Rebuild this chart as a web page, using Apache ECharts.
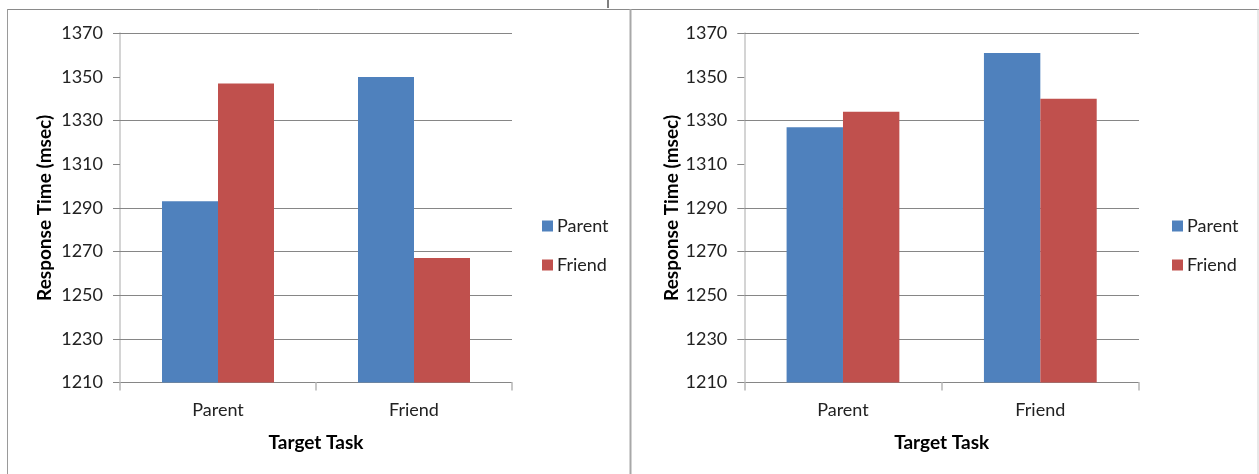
<!DOCTYPE html>
<html>
<head>
<meta charset="utf-8">
<script src="https://cdn.jsdelivr.net/npm/echarts@6/dist/echarts.min.js"></script>
<style>
  html, body { margin: 0; padding: 0; background: #fff; }
  #chart { width: 1259px; height: 474px; }
</style>
</head>
<body>
<div id="chart"></div>
<script>
// Response time (msec) by target task, for the two panels
const categories = ['Parent', 'Friend'];
const seriesNames = ['Parent', 'Friend'];
const leftParent = [1293, 1350];
const leftFriend = [1347, 1267];
const rightParent = [1327, 1361];
const rightFriend = [1334, 1340];

// Value axis range and step (tick labels 1210 ... 1370)
const yMin = 1210;
const yMax = 1370;
const yStep = 20;
// horizontal rules drawn across the plot
const gridValues = [1370, 1330, 1290, 1270, 1250, 1230];

const FONT = 'Lato, "Open Sans", sans-serif';
const TEXT = '#222';
const GRID = '#868686';
const BLUE = '#4F81BD';
const RED = '#C0504D';

function makeY(gridIndex, nameGap) {
  return {
    type: 'value', gridIndex: gridIndex,
    min: yMin, max: yMax, interval: yStep,
    name: 'Response Time (msec)', nameLocation: 'middle', nameGap: nameGap,
    nameTextStyle: { fontFamily: FONT, fontSize: 19, fontWeight: 'bold', color: '#000' },
    axisLine: { show: true, lineStyle: { color: '#d4d4d4', width: 2 } },
    axisTick: { show: true, length: 7, lineStyle: { color: GRID } },
    axisLabel: { fontFamily: FONT, fontSize: 18, color: TEXT, margin: 17, formatter: v => String(v) },
    splitLine: { show: false }
  };
}

function makeX(gridIndex) {
  return {
    type: 'category', gridIndex: gridIndex, data: categories,
    name: 'Target Task', nameLocation: 'middle', nameGap: 51,
    nameTextStyle: { fontFamily: FONT, fontSize: 19, fontWeight: 'bold', color: '#000' },
    axisLine: { show: true, lineStyle: { color: GRID, width: 1 } },
    axisTick: { show: true, alignWithLabel: false, length: 8, lineStyle: { color: '#c8c8c8', width: 2 } },
    axisLabel: { fontFamily: FONT, fontSize: 18, color: TEXT, margin: 19 }
  };
}

function makeBar(name, data, idx, color, withRules) {
  const s = {
    type: 'bar', name: name, data: data,
    xAxisIndex: idx, yAxisIndex: idx,
    barGap: '0%', barCategoryGap: '42.86%',
    itemStyle: { color: color }
  };
  if (withRules) {
    s.markLine = {
      silent: true, symbol: 'none', z: 1,
      label: { show: false },
      lineStyle: { color: GRID, width: 1, type: 'solid' },
      data: gridValues.map(v => ({ yAxis: v }))
    };
  }
  return s;
}

function makeLegend(left) {
  return {
    data: seriesNames, orient: 'vertical', left: left, top: 212,
    itemWidth: 11, itemHeight: 11, itemGap: 21, icon: 'rect',
    textStyle: { fontFamily: FONT, fontSize: 18, color: TEXT, padding: [0, 0, 0, -1] }
  };
}

const chart = echarts.init(document.getElementById('chart'));
chart.setOption({
  animation: false,
  backgroundColor: '#fff',
  color: [BLUE, RED],
  grid: [
    { left: 120, top: 33.3, width: 392, height: 349.2 },
    { left: 744.3, top: 33.3, width: 394.7, height: 349.2 }
  ],
  xAxis: [makeX(0), makeX(1)],
  yAxis: [makeY(0, 66), makeY(1, 61)],
  legend: [makeLegend(537), makeLegend(1167)],
  series: [
    makeBar(seriesNames[0], leftParent, 0, BLUE, true),
    makeBar(seriesNames[1], leftFriend, 0, RED, false),
    makeBar(seriesNames[0], rightParent, 1, BLUE, true),
    makeBar(seriesNames[1], rightFriend, 1, RED, false)
  ],
  graphic: [
    // panel frames
    { type: 'line', shape: { x1: 7.5, y1: 9.5, x2: 630, y2: 9.5 }, style: { stroke: '#8a8a8a', lineWidth: 1 } },
    { type: 'line', shape: { x1: 7.5, y1: 9, x2: 7.5, y2: 474 }, style: { stroke: '#9a9a9a', lineWidth: 1 } },
    { type: 'line', shape: { x1: 631, y1: 9.5, x2: 1259, y2: 9.5 }, style: { stroke: '#8a8a8a', lineWidth: 1 } },
    { type: 'line', shape: { x1: 630.5, y1: 9, x2: 630.5, y2: 474 }, style: { stroke: '#a8a8a8', lineWidth: 2 } },
    { type: 'line', shape: { x1: 1258, y1: 9, x2: 1258, y2: 474 }, style: { stroke: '#d0d0d0', lineWidth: 1 } },
    { type: 'line', shape: { x1: 608, y1: 0, x2: 608, y2: 8 }, style: { stroke: '#000', lineWidth: 1 } }
  ]
});
</script>
</body>
</html>
